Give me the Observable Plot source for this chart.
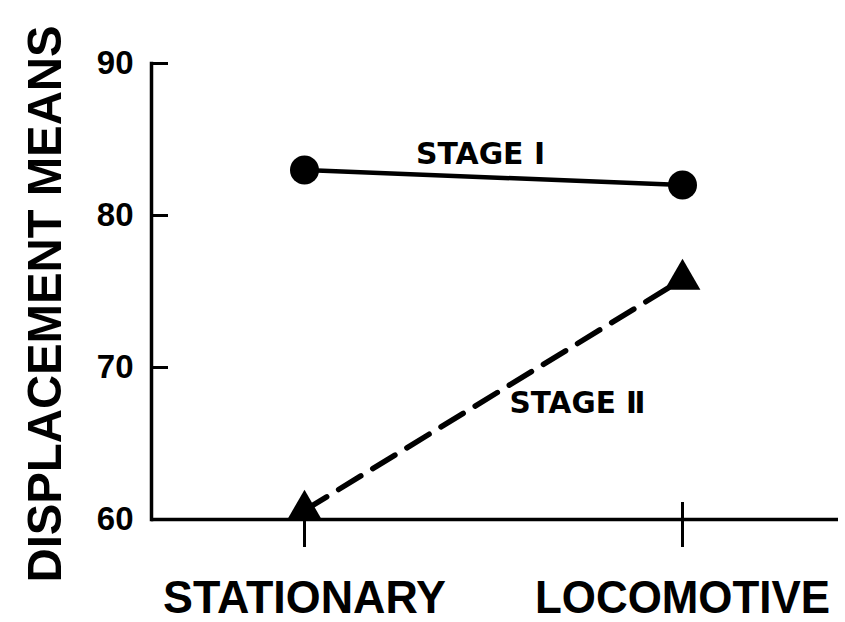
<!DOCTYPE html>
<html><head><meta charset="utf-8">
<script src="https://cdn.jsdelivr.net/npm/d3@7"></script>
<script src="https://cdn.jsdelivr.net/npm/@observablehq/plot@0.6"></script>
<style>body{margin:0;background:#fff}</style>
</head><body><div id="chart"></div>
<script>
const conditions = ["STATIONARY", "LOCOMOTIVE"];
const stageI = [83.0, 82.0];
const stageII = [60.6, 75.8];
const yTicks = [60, 70, 80, 90];
const yLabel = "DISPLACEMENT MEANS";
const stageNames = ["STAGE Ⅰ", "STAGE Ⅱ"];

const rowsI = conditions.map((c, i) => ({i, cond: c, v: stageI[i]}));
const rowsII = conditions.map((c, i) => ({i, cond: c, v: stageII[i]}));
const mids = [
  {label: stageNames[0], x: d3.mean(rowsI, d => d.i), y: d3.mean(stageI)},
  {label: stageNames[1], x: d3.mean(rowsII, d => d.i), y: d3.mean(stageII)}
];
const xIdx = conditions.map((c, i) => i);
const font = "'Liberation Sans', Arial, Helvetica, sans-serif";

const chart = Plot.plot({
  width: 845,
  height: 622,
  marginLeft: 151,
  marginRight: 7,
  marginTop: 63,
  marginBottom: 103,
  style: {fontFamily: font, fontWeight: "bold", background: "#fff", color: "#000"},
  x: {domain: [0, 1], range: [304, 682], axis: null},
  y: {domain: [60, 90], axis: null},
  marks: [
    Plot.frame({anchor: "left", strokeWidth: 3.5}),
    Plot.ruleY([60], {strokeWidth: 3.5}),
    Plot.axisY(yTicks, {tickSize: -17, strokeWidth: 3, tickFormat: () => ""}),
    Plot.text(yTicks, {y: d => d, frameAnchor: "left", dx: -18, textAnchor: "end", fontSize: 33, fontWeight: "bold", className: "ytl"}),
    Plot.axisX(xIdx, {tickSize: 28, strokeWidth: 3, tickFormat: () => ""}),
    Plot.axisX(xIdx, {tickSize: -17, strokeWidth: 3, tickFormat: () => ""}),
    Plot.text(xIdx, {x: d => d, text: d => conditions[d], frameAnchor: "bottom", lineAnchor: "middle", dy: 79, fontSize: 46, fontWeight: "bold", className: "xl"}),
    Plot.text([yLabel], {frameAnchor: "left", rotate: -90, textAnchor: "start", dx: -106, dy: 291, fontSize: 49, fontWeight: "bold", className: "yl"}),
    Plot.line(rowsI, {x: "i", y: "v", strokeWidth: 4.5}),
    Plot.line(rowsII, {x: "i", y: "v", strokeWidth: 5.5, strokeDasharray: "26,14"}),
    Plot.dot(rowsI, {x: "i", y: "v", r: 14.5, fill: "#000", stroke: null}),
    Plot.dot(rowsII, {x: "i", y: "v", r: 13.3, symbol: "triangle", fill: "#000", stroke: null}),
    Plot.text(mids.slice(0, 1), {x: "x", y: "y", text: "label", dx: -13, dy: -23, fontSize: 30, fontWeight: "bold", fontFamily: "'DejaVu Sans', sans-serif", className: "s1"}),
    Plot.text(mids.slice(1), {x: "x", y: "y", text: "label", dx: 84, dy: 9, fontSize: 30, fontWeight: "bold", fontFamily: "'DejaVu Sans', sans-serif", className: "s2"})
  ]
});

const svg = d3.select(chart);
svg.selectAll(".yl text").attr("textLength", 557).attr("lengthAdjust", "spacingAndGlyphs");
svg.selectAll(".xl text").each(function(d, k) {
  d3.select(this).attr("textLength", k === 0 ? 283 : 295).attr("lengthAdjust", "spacingAndGlyphs");
});
svg.selectAll(".s1 text").attr("textLength", 129).attr("lengthAdjust", "spacingAndGlyphs");
svg.selectAll(".s2 text").attr("textLength", 136).attr("lengthAdjust", "spacingAndGlyphs");
document.getElementById("chart").append(chart);
</script>
</body></html>
